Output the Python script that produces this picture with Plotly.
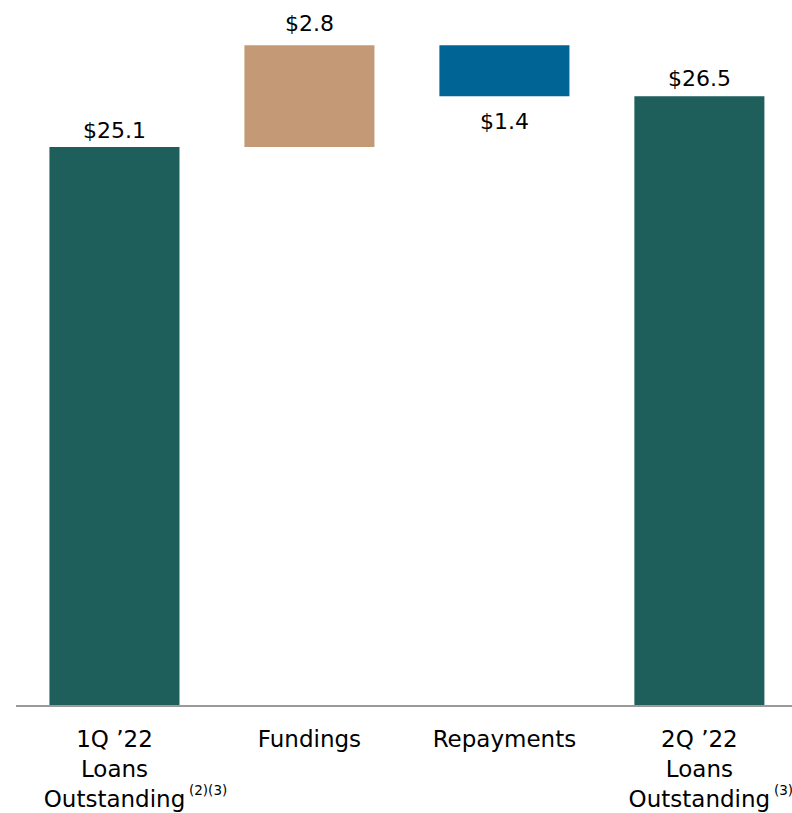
import plotly.graph_objects as go

# Quarter-over-quarter bridge of loans outstanding ($ billions)
categories = ["1Q '22 Loans Outstanding", "Fundings", "Repayments", "2Q '22 Loans Outstanding"]
tick_labels = [
    "1Q ’22<br>Loans<br>Outstanding",
    "Fundings",
    "Repayments",
    "2Q ’22<br>Loans<br>Outstanding",
]
footnote_marks = ["(2)(3)", "", "", "(3)"]
opening_balance = 25.1
fundings = 2.8
repayments = 1.4
closing_balance = 26.5

heights = [opening_balance, fundings, repayments, closing_balance]
bases = [0, opening_balance, opening_balance + fundings - repayments, 0]
colors = ["#1e5e5b", "#c49a76", "#006494", "#1e5e5b"]
value_text = ["$" + f"{v:.1f}" for v in heights]

FONT = "DejaVu Sans"
INK = "#000000"

fig = go.Figure(
    go.Bar(
        x=categories,
        y=heights,
        base=bases,
        marker=dict(color=colors, line=dict(width=0)),
        hoverinfo="skip",
    )
)

# value labels: above the bar for increases/totals, below it for the repayment
label_y = [opening_balance, opening_balance + fundings, opening_balance + fundings - repayments, closing_balance]
label_shift = [17, 22, -25, 18]
for cat, yv, txt, sh in zip(categories, label_y, value_text, label_shift):
    fig.add_annotation(
        x=cat, y=yv, text=txt, showarrow=False,
        yanchor="middle", yshift=sh,
        font=dict(family=FONT, size=22, color=INK),
    )

# footnote markers trailing the last line of the category labels
for cat, mark in zip(categories, footnote_marks):
    if mark:
        fig.add_annotation(
            x=cat, xref="x", y=0, yref="paper", text=mark, showarrow=False,
            xanchor="left", xshift=73, yanchor="middle", yshift=-85,
            font=dict(family=FONT, size=13.5, color=INK),
        )

fig.update_layout(
    width=792, height=813,
    margin=dict(l=16, r=0, t=0, b=108),
    paper_bgcolor="white", plot_bgcolor="white",
    bargap=0.333,
    showlegend=False,
    xaxis=dict(
        range=[-0.505, 3.475],
        tickmode="array", tickvals=categories, ticktext=tick_labels,
        tickfont=dict(family=FONT, size=23, color=INK),
        ticklabelstandoff=13,
        showline=True, linecolor="#9a9a9a", linewidth=1.5,
        showgrid=False, zeroline=False, ticks="",
    ),
    yaxis=dict(
        range=[9.78, 29.14],
        visible=False, showgrid=False, zeroline=False,
    ),
)

fig.write_html("out.html")
